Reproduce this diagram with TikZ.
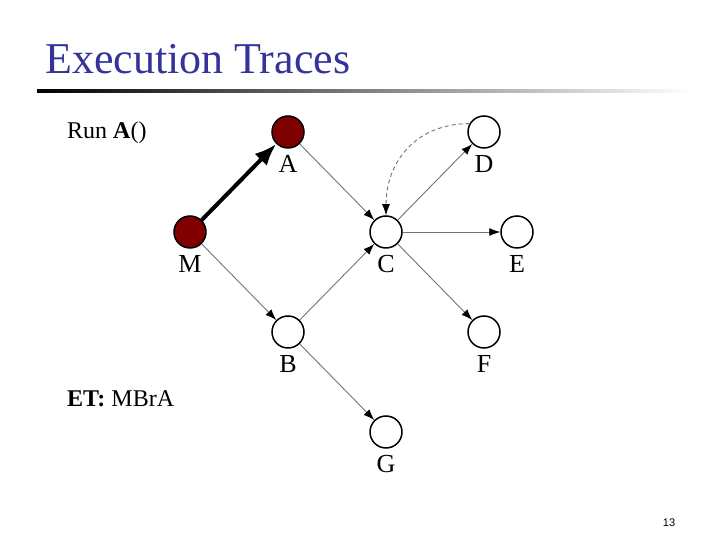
\documentclass[tikz,border=0pt]{standalone}
\usepackage{fontspec}
\setmainfont{Liberation Serif}
\newfontfamily\slidenum{Liberation Sans}
\usepackage{tikz}
\usetikzlibrary{arrows.meta,positioning}
\definecolor{titleblue}{RGB}{51,51,153}
\definecolor{visited}{RGB}{128,0,0}

\begin{document}
\begin{tikzpicture}[x=1pt, y=1pt, node distance=100pt and 98pt, on grid]
\tikzstyle{every node}=[font=\fontsize{24}{28}\selectfont]
\tikzstyle{block}=[circle, draw=black, line width=1.5pt, fill=white, minimum size=32pt, inner sep=0pt]
\tikzstyle{done}=[block, fill=visited]
\tikzstyle{tag}=[font=\fontsize{26}{28}\selectfont, inner sep=0pt]
\tikzstyle{call}=[draw=gray!90!black, line width=0.9pt, -{Latex[length=11pt,width=8pt,color=black]}]
\tikzstyle{taken}=[line width=4pt, -{Latex[length=22pt,width=17pt]}]
\tikzstyle{back}=[call, dash pattern=on 4pt off 3pt]
\useasboundingbox (0,0) rectangle (720,540);

% title and rule
\node[anchor=base west, inner sep=0pt, text=titleblue, font=\fontsize{44}{50}\selectfont] (title) at (45,466) {Execution Traces};
\shade[left color=black, right color=white] (37,447.5) rectangle (692,450.5);

% text
\node[anchor=base west, inner sep=0pt] (run) at (67,401) {Run \textbf{A}()};
\node[anchor=base west, inner sep=0pt] (et) at (67,133) {\textbf{ET:} MBrA};
\node[inner sep=0pt, font=\slidenum\fontsize{11}{13}\selectfont] (page) at (669,17) {13};

% call graph
\node[done]  (M) at (190,308) {};
\node[done]  (A) [above right=of M] {};
\node[block] (C) [below right=of A] {};
\node[block] (D) [above right=of C] {};
\node[block] (E) [right=131pt of C] {};
\node[block] (B) [below right=of M] {};
\node[block] (F) [below right=of C] {};
\node[block] (G) [below right=of B] {};

% names under the nodes
\foreach \n in {M,A,B,C,D,E,F,G}
  \node[tag] (\n-tag) [below=32pt of \n] {\n};

\draw[taken] (M) -- (A);
\path
(A) edge[call] (C)
(M) edge[call] (B)
(B) edge[call] (C)
    edge[call] (G)
(C) edge[call] (D)
    edge[call] (E)
    edge[call] (F);
\draw[back] (D.150) to[out=180, in=90, looseness=1.1] (C.north);
\end{tikzpicture}
\end{document}
